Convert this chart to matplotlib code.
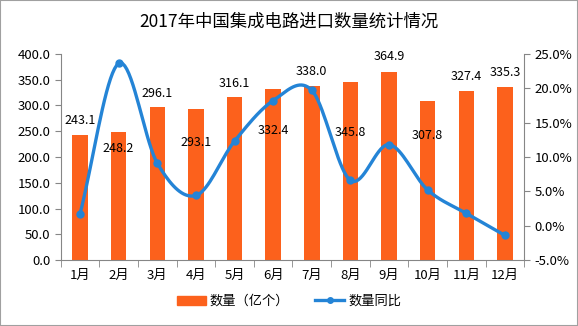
import numpy as np
import matplotlib
matplotlib.use('Agg')
from matplotlib import pyplot as plt
from matplotlib.patches import Rectangle
from matplotlib.lines import Line2D
from matplotlib.patches import Patch
from matplotlib.ticker import FuncFormatter, MultipleLocator

plt.rcParams['font.family'] = ['Noto Sans CJK SC', 'DejaVu Sans']

# 数据
months = ['1月', '2月', '3月', '4月', '5月', '6月', '7月', '8月', '9月', '10月', '11月', '12月']
qty = [243.1, 248.2, 296.1, 293.1, 316.1, 332.4, 338.0, 345.8, 364.9, 307.8, 327.4, 335.3]
yoy = [1.7, 23.6, 9.1, 4.4, 12.3, 18.2, 19.7, 6.6, 11.8, 5.2, 1.8, -1.4]
# 数据标签相对柱顶的偏移（亿个）
label_off = [28, -32, 27, -65, 27, -82, 27, -98, 29, -66, 28, 29]

bar_c = '#FC611C'
line_c = '#2484D6'
axis_c = '#868686'


def smooth(x, y, n=20):
    # Catmull-Rom 平滑，类似 Excel 的平滑线
    x = np.asarray(x, float)
    y = np.asarray(y, float)
    px = np.concatenate([[2 * x[0] - x[1]], x, [2 * x[-1] - x[-2]]])
    py = np.concatenate([[2 * y[0] - y[1]], y, [2 * y[-1] - y[-2]]])
    xs, ys = [], []
    t = np.linspace(0, 1, n)
    for i in range(1, len(px) - 2):
        p0, p1, p2, p3 = [np.array([px[j], py[j]]) for j in range(i - 1, i + 3)]
        for tt in t:
            pt = 0.5 * ((2 * p1) + (-p0 + p2) * tt + (2 * p0 - 5 * p1 + 4 * p2 - p3) * tt ** 2
                        + (-p0 + 3 * p1 - 3 * p2 + p3) * tt ** 3)
            xs.append(pt[0])
            ys.append(pt[1])
    return xs, ys


fig = plt.figure(figsize=(5.78, 3.26), dpi=100)
ax = fig.add_axes([0.105, 0.202, 0.802, 0.633])
x = np.arange(len(months))

ax.bar(x, qty, width=0.4, color=bar_c, zorder=2)
ax.set_xlim(-0.5, len(months) - 0.5)
ax.set_ylim(0, 400)
ax.yaxis.set_major_locator(MultipleLocator(50))
ax.yaxis.set_major_formatter(FuncFormatter(lambda v, p: '%.1f' % v))
ax.set_xticks(x)
ax.set_xticklabels(months)
ax.set_xticks(np.arange(-0.5, len(months)), minor=True)
ax.tick_params(axis='x', which='major', length=0, labelsize=9.5, pad=6)
ax.tick_params(axis='x', which='minor', length=5, color=axis_c)
ax.tick_params(axis='y', length=4, color=axis_c, labelsize=9.5)
for s in ['top', 'right']:
    ax.spines[s].set_visible(False)
for s in ['left', 'bottom']:
    ax.spines[s].set_color(axis_c)

for i, v in enumerate(qty):
    ax.text(x[i], v + label_off[i], '%.1f' % v, ha='center', va='center', fontsize=9, zorder=5)

ax2 = ax.twinx()
ax2.set_ylim(-5, 25)
ax2.yaxis.set_major_locator(MultipleLocator(5))
ax2.yaxis.set_major_formatter(FuncFormatter(lambda v, p: '%.1f%%' % v))
ax2.tick_params(axis='y', length=4, color=axis_c, labelsize=9.5)
for s in ['top', 'left', 'bottom']:
    ax2.spines[s].set_visible(False)
ax2.spines['right'].set_color(axis_c)

sx, sy = smooth(x, yoy)
ax2.plot(sx, sy, color=line_c, lw=2.4, solid_capstyle='round', zorder=3)
ax2.plot(x, yoy, 'o', color=line_c, ms=5, zorder=4)

fig.text(0.5, 0.935, '2017年中国集成电路进口数量统计情况', ha='center', va='center', fontsize=12.5)

handles = [Patch(color=bar_c), Line2D([], [], color=line_c, lw=2.4, marker='o', ms=4)]
fig.legend(handles, ['数量（亿个）', '数量同比'], loc='center', bbox_to_anchor=(0.5, 0.075),
           ncol=2, frameon=False, fontsize=9.5, handlelength=2.2, columnspacing=2.0, handletextpad=0.3)

fig.patches.append(Rectangle((0, 0), 1, 1, transform=fig.transFigure, fill=False,
                             edgecolor='#A0A0A0', lw=1.5))

fig.savefig('out.png', dpi=100)
